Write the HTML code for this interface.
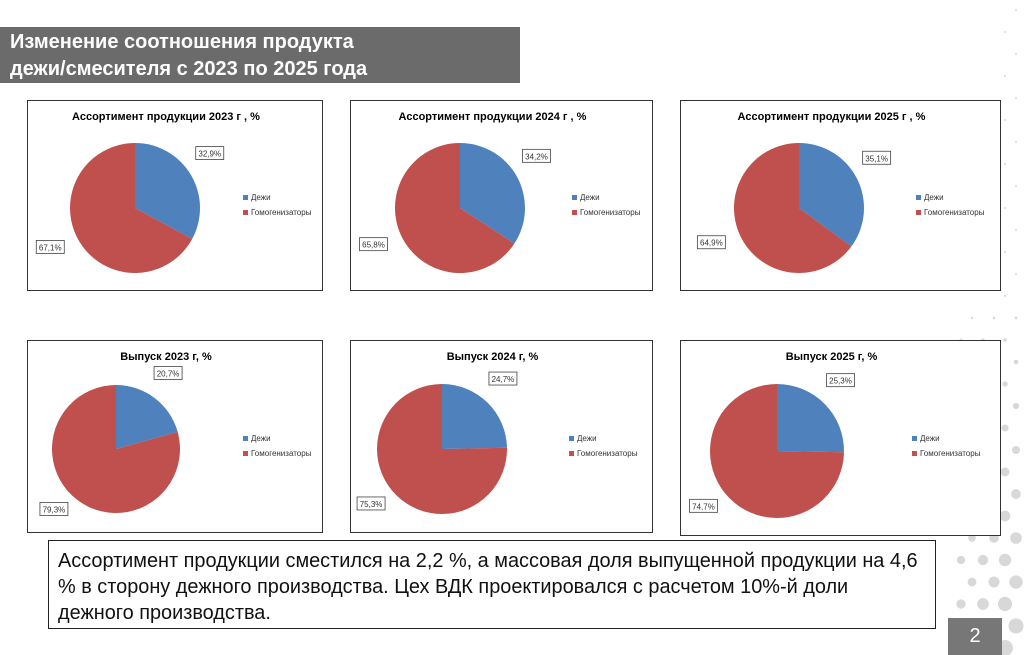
<!DOCTYPE html>
<html><head><meta charset="utf-8"><style>
body{margin:0;width:1024px;height:655px;background:#fff;position:relative;overflow:hidden;font-family:"Liberation Sans",sans-serif}
.title{position:absolute;left:0;top:27px;width:520px;height:56px;background:#6b6b6b;color:#fff;font-weight:bold;font-size:20px;line-height:27px;padding-left:10px;box-sizing:border-box;padding-top:2px}
.panel{position:absolute;border:1px solid #333;background:#fff;box-sizing:border-box}
.note{position:absolute;left:48px;top:540px;width:888px;height:89px;border:1px solid #222;background:#fff;box-sizing:border-box;font-size:19.9px;line-height:26px;padding:7px 9px;color:#111;white-space:nowrap;overflow:hidden}
.pg{position:absolute;left:948px;top:618px;width:54px;height:37px;background:#777;color:#fff;font-size:20px;text-align:center;line-height:37px}
</style></head><body>
<svg id="dots" width="1024" height="655" style="position:absolute;left:0;top:0"></svg>
<div class="title">Изменение соотношения продукта<br>дежи/смесителя с 2023 по 2025 года</div>
<div id="charts"></div>
<div class="note">Ассортимент продукции сместился на 2,2 %, а массовая доля выпущенной продукции на 4,6<br>% в сторону дежного производства. Цех ВДК проектировался с расчетом 10%-й доли<br>дежного производства.</div>
<div class="pg">2</div>
<script>
const chartTitles=["Ассортимент продукции 2023 г , %","Ассортимент продукции 2024 г , %","Ассортимент продукции 2025 г , %","Выпуск 2023 г, %","Выпуск 2024 г, %","Выпуск 2025 г, %"];
const dezhiValues=[32.9,34.2,35.1,20.7,24.7,25.3];
const homoValues=[67.1,65.8,64.9,79.3,75.3,74.7];
const seriesNames=["Дежи","Гомогенизаторы"];
const colors=["#4f81bd","#c0504d"];
const panels=[[27,100,296,191],[350,100,303,191],[680,100,321,191],[27,340,296,193],[350,340,303,193],[680,340,321,196]];
const pies=[[107,107,65],[109,107,65],[118,107,65],[88,108,64],[91,108,65],[96,110,67]];
const legendPos=[[215,99],[221,99],[235,99],[215,100],[218,100],[231,100]];
const ns="http://www.w3.org/2000/svg";
const fmt=v=>v.toFixed(1).replace('.',',')+'%';
const root=document.getElementById('charts');
panels.forEach((p,i)=>{
  const d=document.createElement('div');d.className='panel';
  
  
  d.style.cssText=`left:${p[0]}px;top:${p[1]}px;width:${p[2]}px;height:${p[3]}px`;
  const s=document.createElementNS(ns,'svg');s.setAttribute('width',p[2]);s.setAttribute('height',p[3]);
  d.appendChild(s);root.appendChild(d);
  const t=document.createElementNS(ns,'text');
  
  
  t.setAttribute('x',p[2]/2-10);t.setAttribute('y',19);t.setAttribute('text-anchor','middle');
  t.setAttribute('font-size','11');t.setAttribute('font-weight','bold');t.textContent=chartTitles[i];s.appendChild(t);
  const [cx,cy,r]=pies[i];
  const vals=[dezhiValues[i],homoValues[i]];const tot=vals[0]+vals[1];
  let a0=0;
  vals.forEach((v,k)=>{
    const a1=a0+v/tot*2*Math.PI;
    const x0=cx+r*Math.sin(a0),y0=cy-r*Math.cos(a0),x1=cx+r*Math.sin(a1),y1=cy-r*Math.cos(a1);
    const path=document.createElementNS(ns,'path');
    
    
    path.setAttribute('d',`M${cx},${cy}L${x0},${y0}A${r},${r} 0 ${(a1-a0)>Math.PI?1:0} 1 ${x1},${y1}Z`);
    path.setAttribute('fill',colors[k]);s.appendChild(path);
    const mid=(a0+a1)/2;
    const lx=cx+(r+22)*Math.sin(mid)+(k==0?0:-10),ly=cy-(r+12)*Math.cos(mid)+(k==0?-15:0);
    const g=document.createElementNS(ns,'g');
    
    
    const rc=document.createElementNS(ns,'rect');rc.setAttribute('x',lx-14);rc.setAttribute('y',ly-7);rc.setAttribute('width',28);rc.setAttribute('height',13);
    rc.setAttribute('fill','#fff');rc.setAttribute('stroke','#444');rc.setAttribute('stroke-width','0.8');g.appendChild(rc);
    const tx=document.createElementNS(ns,'text');tx.setAttribute('x',lx);tx.setAttribute('y',ly+3);tx.setAttribute('text-anchor','middle');tx.setAttribute('font-size','8');tx.setAttribute('fill','#333');
    tx.textContent=fmt(v);g.appendChild(tx);s.appendChild(g);
    a0=a1;
  });
  const [lgx,lgy]=legendPos[i];
  seriesNames.forEach((n,k)=>{
    const g=document.createElementNS(ns,'g');
    
    
    const y=lgy+k*15;
    const rc=document.createElementNS(ns,'rect');rc.setAttribute('x',lgx);rc.setAttribute('y',y-5);rc.setAttribute('width',5);rc.setAttribute('height',5);rc.setAttribute('fill',colors[k]);g.appendChild(rc);
    const tx=document.createElementNS(ns,'text');tx.setAttribute('x',lgx+8);tx.setAttribute('y',y);tx.setAttribute('font-size','8');tx.setAttribute('fill','#333');tx.textContent=n;g.appendChild(tx);
    s.appendChild(g);
  });
});
const dots=document.getElementById('dots');
for(let y=10;y<655;y+=22){for(let c=0;c<3;c++){
  const x=1016-c*22-((y/22|0)%2)*11;
  const f=Math.max(0,(y-300)/350);
  const rr=1+f*7*(1-c*0.2);
  if(y<300&&c>0)continue;
  const e=document.createElementNS(ns,'circle');e.setAttribute('cx',x);e.setAttribute('cy',y);e.setAttribute('r',rr);e.setAttribute('fill','#d8d8d8');dots.appendChild(e);
}}
</script>
</body></html>
